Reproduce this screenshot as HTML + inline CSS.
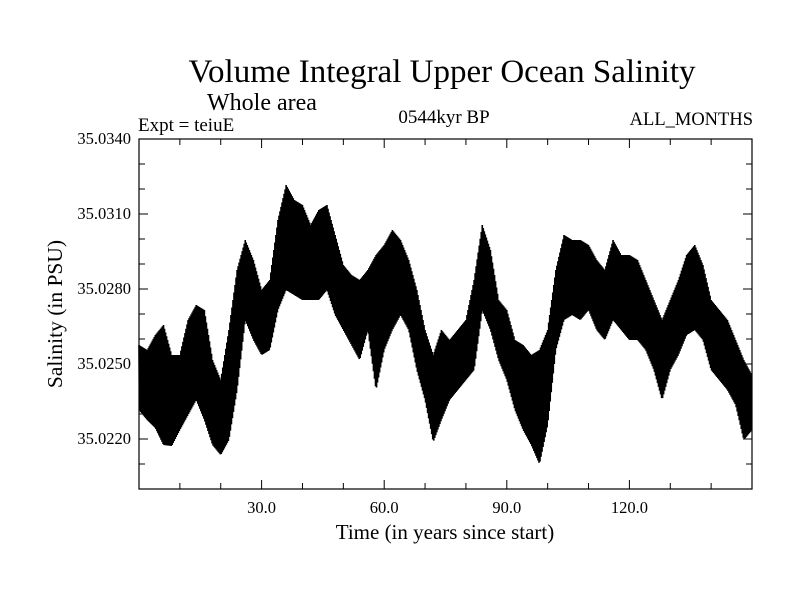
<!DOCTYPE html>
<html><head><meta charset="utf-8">
<style>
html,body{margin:0;padding:0;background:#fff;}
svg text{font-family:"Liberation Serif",serif;fill:#000;}
</style></head>
<body>
<svg id="chart" width="800" height="600" viewBox="0 0 800 600" xmlns="http://www.w3.org/2000/svg">
<rect width="800" height="600" fill="#fff"/>
<text x="442" y="82" font-size="33" text-anchor="middle">Volume Integral Upper Ocean Salinity</text>
<text x="207" y="110" font-size="24">Whole area</text>
<text x="138" y="131" font-size="19">Expt = teiuE</text>
<text x="444" y="123" font-size="19" text-anchor="middle">0544kyr BP</text>
<text x="753" y="125" font-size="18.5" text-anchor="end">ALL_MONTHS</text>
<text x="445" y="539" font-size="21" text-anchor="middle">Time (in years since start)</text>
<text x="0" y="0" font-size="21.5" text-anchor="middle" transform="translate(62,314) rotate(-90)">Salinity (in PSU)</text>
<g id="plot"></g>
</svg>
<script>
// data: 2-year bins (years 0..150), lower and upper envelope of monthly salinity (PSU)
const binYears = [0,2,4,6,8,10,12,14,16,18,20,22,24,26,28,30,32,34,36,38,40,42,44,46,48,50,52,54,56,58,60,62,64,66,68,70,72,74,76,78,80,82,84,86,88,90,92,94,96,98,100,102,104,106,108,110,112,114,116,118,120,122,124,126,128,130,132,134,136,138,140,142,144,146,148,150];
const topPx = [345,350,335,325,355,355,320,305,310,360,380,330,270,240,260,290,280,220,185,200,205,225,210,205,235,265,275,280,270,255,245,230,240,260,290,330,355,330,340,330,320,280,225,250,300,310,340,345,355,350,330,270,235,240,240,245,260,270,240,255,255,260,280,300,320,300,280,255,245,265,300,310,320,340,360,375];
const botPx = [410,420,428,445,446,430,415,400,420,445,455,440,390,320,340,355,350,310,290,295,300,300,300,290,315,330,345,360,330,390,350,330,315,330,370,400,442,420,400,390,380,370,310,330,360,380,410,430,445,464,425,350,320,315,320,310,330,340,320,330,340,340,350,370,400,370,355,335,330,340,370,380,390,405,440,430];
// convert read pixel heights into salinity values
const salHigh = topPx.map(p => +(35.034 - (p-139)*0.00004).toFixed(5));
const salLow = botPx.map(p => +(35.034 - (p-139)*0.00004).toFixed(5));
const yTickVals = [35.0220,35.0250,35.0280,35.0310,35.0340];
const yTickLabels = ["35.0220","35.0250","35.0280","35.0310","35.0340"];
const xTickVals = [30,60,90,120];
const xTickLabels = ["30.0","60.0","90.0","120.0"];

const L=139,R=752,T=139,B=489;
const xS = v => L + (v-0)/(150-0)*(R-L);
const yS = v => B - (v-35.020)/(35.034-35.020)*(B-T);
const NS="http://www.w3.org/2000/svg";
const g=document.getElementById('plot');
function mk(tag,attrs){const e=document.createElementNS(NS,tag);for(const k in attrs)e.setAttribute(k,attrs[k]);g.appendChild(e);return e;}

// series zigzag between envelopes
let pts=[];
for(let i=0;i<binYears.length-1;i++){
  const y0=binYears[i], y1=binYears[i+1];
  const steps=16;
  for(let s=0;s<steps;s++){
    const f=s/steps;
    const yr=y0+(y1-y0)*f;
    const hi=salHigh[i]+(salHigh[i+1]-salHigh[i])*f;
    const lo=salLow[i]+(salLow[i+1]-salLow[i])*f;
    const v=(s%2===0)?hi:lo;
    pts.push(xS(yr).toFixed(2)+","+yS(v).toFixed(2));
  }
}
const line=mk('polyline',{points:pts.join(' '),fill:'none',stroke:'#000','stroke-width':'1.6'});



// frame
const fr=mk('rect',{x:L,y:T,width:R-L,height:B-T,fill:'none',stroke:'#000','stroke-width':'1.2'});



// y ticks (minor every 0.001)
for(let k=0;k<=14;k++){
  const v=35.020+k*0.001, y=yS(v);
  const major = yTickVals.some(t=>Math.abs(t-v)<1e-7);
  const len = major?9:6;
  const t1=mk('line',{x1:L,x2:L+len,y1:y,y2:y,stroke:'#000','stroke-width':'1'});
  
  
  const t2=mk('line',{x1:R,x2:R-len,y1:y,y2:y,stroke:'#000','stroke-width':'1'});
  
  
}
yTickVals.forEach((v,i)=>{
  const t=mk('text',{x:131,y:yS(v)+5,'font-size':'16.5','text-anchor':'end'});
  t.textContent=yTickLabels[i];
  
  
});
// x ticks (minor every 10 years)
for(let yr=10;yr<150;yr+=10){
  const x=xS(yr); const major=xTickVals.includes(yr); const len=major?9:6;
  const t1=mk('line',{x1:x,x2:x,y1:B,y2:B-len,stroke:'#000','stroke-width':'1'});
  
  
  const t2=mk('line',{x1:x,x2:x,y1:T,y2:T+len,stroke:'#000','stroke-width':'1'});
  
  
}
xTickVals.forEach((v,i)=>{
  const t=mk('text',{x:xS(v),y:513,'font-size':'16.5','text-anchor':'middle'});
  t.textContent=xTickLabels[i];
  
  
});
</script>
</body></html>
